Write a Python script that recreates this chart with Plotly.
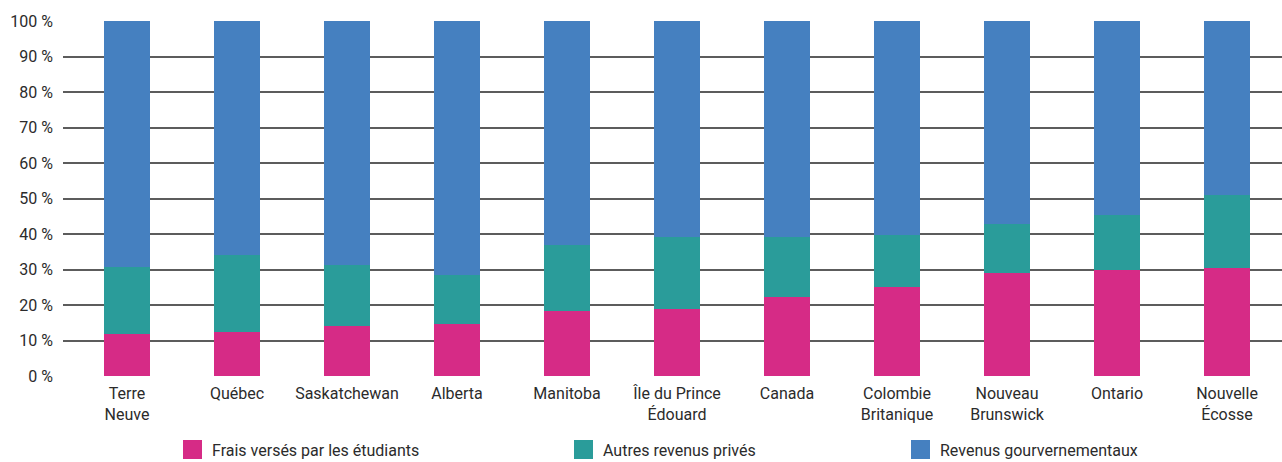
import plotly.graph_objects as go

categories = ["Terre<br>Neuve", "Québec", "Saskatchewan", "Alberta", "Manitoba",
              "Île du Prince<br>Édouard", "Canada", "Colombie<br>Britanique",
              "Nouveau<br>Brunswick", "Ontario", "Nouvelle<br>Écosse"]

frais_etudiants = [11.9, 12.5, 14.2, 14.6, 18.4, 18.9, 22.3, 25.1, 28.9, 30.0, 30.5]
autres_prives = [18.7, 21.5, 17.1, 13.9, 18.6, 20.2, 16.8, 14.7, 13.9, 15.3, 20.5]
revenus_gouv = [round(100 - a - b, 1) for a, b in zip(frais_etudiants, autres_prives)]

series_names = ["Frais versés par les étudiants", "Autres revenus privés", "Revenus gourvernementaux"]
series_values = [frais_etudiants, autres_prives, revenus_gouv]
colors = ["#D62B86", "#2A9C9A", "#4580C0"]

FONT = "Roboto, Arial, sans-serif"

fig = go.Figure()
for name, vals, col in zip(series_names, series_values, colors):
    fig.add_trace(go.Bar(x=list(range(len(categories))), y=vals, name=name,
                         marker=dict(color=col, line=dict(width=0)),
                         width=0.41, showlegend=False))

# Legend drawn as squares + labels below the plot
W_PLOT = 1282 - 63
H_PLOT = 376 - 21
legend_sq_left = [183, 574, 911]
for name, col, px in zip(series_names, colors, legend_sq_left):
    fig.add_shape(type="rect", xref="paper", yref="paper",
                  x0=(px - 63) / W_PLOT, x1=(px + 19 - 63) / W_PLOT,
                  y0=(376 - 440) / H_PLOT, y1=(376 - 459) / H_PLOT,
                  fillcolor=col, line=dict(width=0))
    fig.add_annotation(text=name, xref="paper", yref="paper",
                       x=(px + 27 - 63) / W_PLOT, y=(376 - 450) / H_PLOT,
                       xanchor="left", yanchor="middle", showarrow=False,
                       font=dict(family=FONT, size=16, color="#2b2b2b"))

fig.update_layout(
    width=1282, height=462,
    margin=dict(l=63, r=0, t=21, b=86),
    paper_bgcolor="white", plot_bgcolor="white",
    barmode="stack", bargap=0.6,
    font=dict(family=FONT, size=16, color="#2b2b2b"),
)
fig.update_xaxes(
    tickmode="array", tickvals=list(range(len(categories))), ticktext=categories,
    range=[-0.582, 10.5], showgrid=False, zeroline=False, showline=False,
    ticks="", ticklabelstandoff=6,
)
fig.update_yaxes(
    range=[0, 100], tickvals=list(range(0, 101, 10)),
    ticktext=[f"{v} %" for v in range(0, 101, 10)],
    showgrid=True, gridcolor="#5c5c5c", gridwidth=1.5,
    zeroline=False, showline=False, ticks="", ticklabelstandoff=9,
)

fig.write_html("out.html")
